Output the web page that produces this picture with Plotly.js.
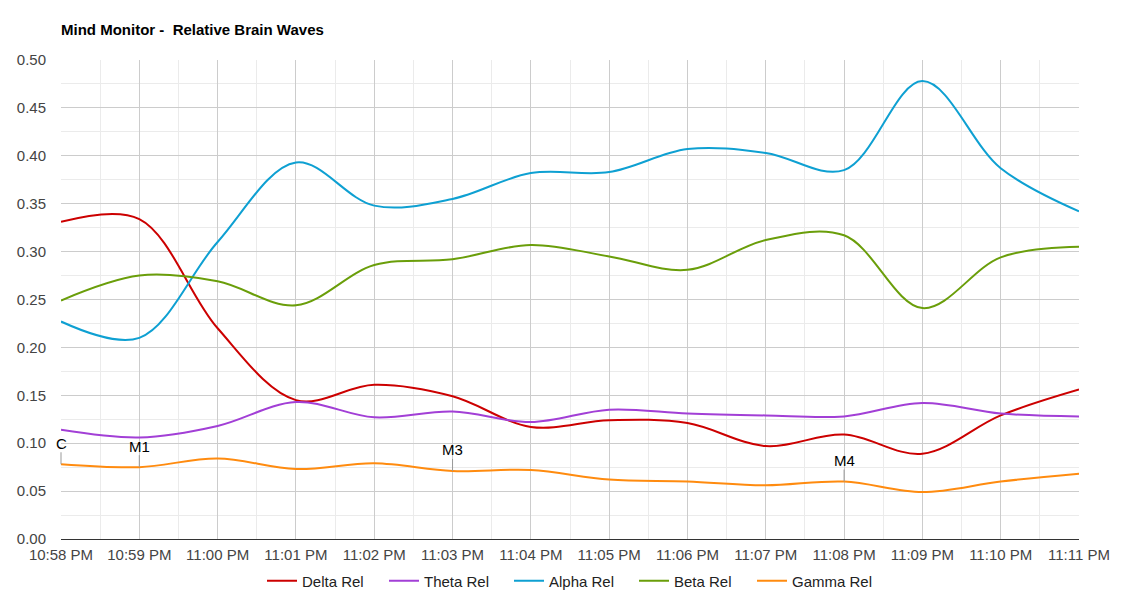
<!DOCTYPE html>
<html>
<head>
<meta charset="utf-8">
<script src="https://cdn.plot.ly/plotly-3.0.1.min.js"></script>
<style>html,body{margin:0;padding:0;background:#fff;}#chart{width:1140px;height:600px;}</style>
</head>
<body>
<div id="chart"></div>
<script>
const times = ['2024-01-01 22:58:00','2024-01-01 22:59:00','2024-01-01 23:00:00','2024-01-01 23:01:00','2024-01-01 23:02:00','2024-01-01 23:03:00','2024-01-01 23:04:00','2024-01-01 23:05:00','2024-01-01 23:06:00','2024-01-01 23:07:00','2024-01-01 23:08:00','2024-01-01 23:09:00','2024-01-01 23:10:00','2024-01-01 23:11:00'];
const deltaRel = [0.331,0.334,0.220,0.145,0.161,0.149,0.117,0.124,0.121,0.097,0.109,0.089,0.129,0.156];
const thetaRel = [0.114,0.106,0.118,0.143,0.127,0.133,0.122,0.135,0.131,0.129,0.128,0.142,0.131,0.128];
const alphaRel = [0.227,0.210,0.310,0.393,0.348,0.355,0.382,0.383,0.407,0.403,0.385,0.478,0.387,0.342];
const betaRel  = [0.249,0.275,0.269,0.244,0.286,0.292,0.307,0.295,0.281,0.312,0.317,0.241,0.294,0.305];
const gammaRel = [0.078,0.075,0.084,0.073,0.079,0.071,0.072,0.062,0.060,0.056,0.060,0.049,0.060,0.068];
const markerLabels = ['C','M1','','','','M3','','','','','M4','','',''];

const seriesNames = ['Delta Rel','Theta Rel','Alpha Rel','Beta Rel','Gamma Rel'];
const seriesData = [deltaRel, thetaRel, alphaRel, betaRel, gammaRel];
const colors = ['#cc0000','#a23fd6','#0ea0d2','#6a9e0a','#ff8b0f'];
const legendIds = ['legend','legend2','legend3','legend4','legend5'];
const legendLineStart = [267, 389, 514, 639, 757];

const FONT = 'Liberation Sans, Arial, sans-serif';

const traces = seriesData.map((d,i)=>({
  x: times, y: d, name: seriesNames[i], type:'scatter', mode:'lines',
  line:{color:colors[i], width:2, shape:'spline', smoothing:1},
  legend: legendIds[i], showlegend:true,
  hoverinfo:'x+y+name'
}));

const annotations = [];
markerLabels.forEach((lbl,i)=>{
  if(!lbl) return;
  annotations.push({x:times[i], y:gammaRel[i], xref:'x', yref:'y', text:lbl,
    showarrow:true, arrowhead:0, arrowwidth:1, arrowcolor:'#999999', ax:0, ay:-21,
    font:{family:FONT, size:15, color:'#000'}, borderpad:0});
});

const layout = {
  width:1140, height:600,
  margin:{l:61, r:61, t:60, b:61},
  paper_bgcolor:'#fff', plot_bgcolor:'#fff',
  showlegend:true,
  font:{family:FONT, size:15, color:'#444'},
  title:{text:'<b>Mind Monitor -  Relative Brain Waves</b>', x:61/1140, xanchor:'left', xref:'container', y:(600-30)/600, yref:'container', yanchor:'middle',
    font:{family:FONT, size:15, color:'#000'}},
  xaxis:{type:'date', range:[times[0], times[times.length-1]], dtick:60000, tick0:times[0], tickformat:'%-I:%M %p',
    showgrid:true, gridcolor:'#cccccc', gridwidth:1, zeroline:false, showline:false, ticks:'', ticklen:0, ticklabelstandoff:5,
    minor:{dtick:30000, showgrid:true, gridcolor:'#ebebeb', gridwidth:1},
    tickfont:{size:15, color:'#444'}, fixedrange:true},
  yaxis:{range:[0,0.5], dtick:0.05, tickformat:'.2f', showgrid:true, gridcolor:'#cccccc', gridwidth:1,
    zeroline:true, zerolinecolor:'#333333', zerolinewidth:1, showline:false, ticks:'', ticklen:0, ticklabelstandoff:14,
    minor:{dtick:0.025, showgrid:true, gridcolor:'#ebebeb', gridwidth:1},
    tickfont:{size:15, color:'#444'}, fixedrange:true},
  annotations: annotations,
  hovermode:'closest'
};
legendIds.forEach((id,i)=>{
  layout[id] = {orientation:'h', x:(legendLineStart[i]-5)/1140, xanchor:'left', xref:'container',
    y:(600-581)/600, yref:'container', yanchor:'middle', borderwidth:0, bgcolor:'rgba(0,0,0,0)',
    font:{family:FONT, size:15, color:'#222'}, itemwidth:30, visible:true};
});
Plotly.newPlot('chart', traces, layout, {displayModeBar:false});
</script>
</body>
</html>
